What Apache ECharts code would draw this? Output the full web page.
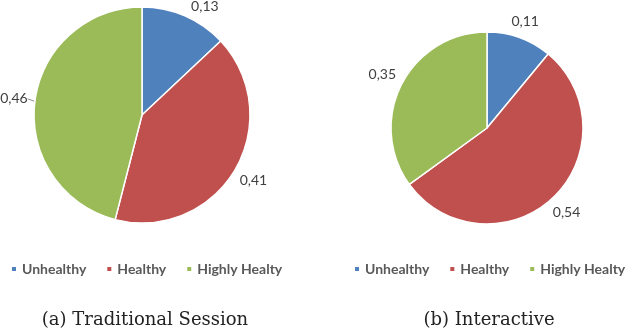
<!DOCTYPE html>
<html>
<head>
<meta charset="utf-8">
<script src="https://cdn.jsdelivr.net/npm/echarts@6/dist/echarts.min.js"></script>
<style>
  html, body { margin: 0; padding: 0; background: #fff; }
  #main { width: 628px; height: 330px; }
</style>
</head>
<body>
<div id="main"></div>
<script>
let categories = ['Unhealthy', 'Healthy', 'Highly Healty']
let traditional = [0.13, 0.41, 0.46]
let interactive = [0.11, 0.54, 0.35]
let colors = ['#4F81BD', '#C0504D', '#9BBB59']
let captions = ['(a) Traditional Session', '(b) Interactive']

// pie geometry
let pies = [
    { center: [142, 115], radius: 108 },
    { center: [487, 128], radius: 96 }
]
let seriesValues = [traditional, interactive]

let toData = function(values) {
    return values.map(function(v, i) {
        return { name: categories[i], value: v }
    })
}

// label box size used for placing (text is about 27 x 11)
let lw = 27
let lh = 11

// put label centre just outside the slice, like excel does
let placeLabel = function(params) {
    let vals = seriesValues[params.seriesIndex]
    let pie = pies[params.seriesIndex]
    let total = vals.reduce(function(a, b) { return a + b }, 0)
    let before = 0
    for (let i = 0; i < params.dataIndex; i++) {
        before += vals[i]
    }
    let ang = (before + vals[params.dataIndex] / 2) / total * Math.PI * 2
    let s = Math.sin(ang)
    let c = Math.cos(ang)
    let d = pie.radius + 7 + Math.abs(s) * lw / 2 + Math.abs(c) * lh / 2
    let x = pie.center[0] + d * s
    let y = pie.center[1] - d * c
    // keep inside the top edge, slide round the ring instead
    let minY = lh / 2 + 1
    if (y < minY) {
        y = minY
        let dy = pie.center[1] - y
        x = pie.center[0] + Math.sign(s) * Math.sqrt(d * d - dy * dy)
    }
    return { x: x, y: y, align: 'center', verticalAlign: 'middle' }
}

let labelStyle = {
    show: true,
    position: 'outside',
    width: 34,
    overflow: 'none',
    formatter: function(p) {
        return String(p.value).replace('.', ',')
    },
    fontFamily: 'Lato',
    fontSize: 14,
    color: '#404040'
}

let legendStyle = {
    fontFamily: 'Lato',
    fontSize: 14,
    fontWeight: 'bold',
    color: '#595959'
}

let captionStyle = {
    fontFamily: 'DejaVu Serif',
    fontSize: 18,
    fontWeight: 'normal',
    color: '#222'
}

let myChart = echarts.init(document.getElementById('main'))

let option = {
    color: colors,
    animation: false,
    title: [
        { text: captions[0], left: 140, top: 306, textAlign: 'center', textStyle: captionStyle },
        { text: captions[1], left: 484, top: 306, textAlign: 'center', textStyle: captionStyle }
    ],
    legend: [
        {
            data: categories, left: 10, top: 262, padding: 0,
            icon: 'rect', itemWidth: 6, itemHeight: 6, itemGap: 19,
            textStyle: legendStyle
        },
        {
            data: categories, left: 353, top: 262, padding: 0,
            icon: 'rect', itemWidth: 6, itemHeight: 6, itemGap: 19,
            textStyle: legendStyle
        }
    ],
    series: [
        {
            name: 'Traditional Session',
            type: 'pie',
            center: pies[0].center,
            radius: pies[0].radius,
            startAngle: 90,
            data: toData(traditional),
            itemStyle: { borderColor: '#fff', borderWidth: 1.5 },
            label: labelStyle,
            labelLine: { show: false },
            labelLayout: placeLabel
        },
        {
            name: 'Interactive',
            type: 'pie',
            center: pies[1].center,
            radius: pies[1].radius,
            startAngle: 90,
            data: toData(interactive),
            itemStyle: { borderColor: '#fff', borderWidth: 1.5 },
            label: labelStyle,
            labelLine: { show: false },
            labelLayout: placeLabel
        }
    ]
}

// the little leader tick next to 0,46
option.series[0].data[2].labelLine = { show: true, length: 4, length2: 0, lineStyle: { color: '#8c8c8c', width: 1 } }

myChart.setOption(option)
</script>
</body>
</html>
